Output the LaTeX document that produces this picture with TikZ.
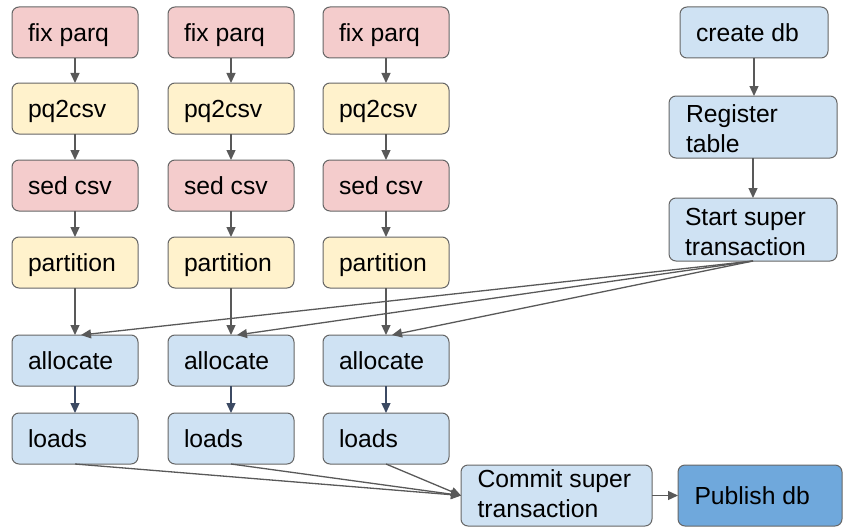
\documentclass[tikz,border=0pt]{standalone}
\usepackage{fontspec}
\setmainfont{Liberation Sans}
\usetikzlibrary{arrows.meta,calc}
\definecolor{pinkf}{HTML}{F4CCCC}
\definecolor{yellowf}{HTML}{FFF2CC}
\definecolor{lbluef}{HTML}{CFE2F3}
\definecolor{dbluef}{HTML}{6FA8DC}
\definecolor{bordc}{HTML}{666666}
\definecolor{arrc}{HTML}{595959}
\definecolor{slatec}{HTML}{3C4A63}
\begin{document}
\begin{tikzpicture}[x=1pt,y=-1pt,
  box/.style={draw=bordc, line width=1pt, rounded corners=7pt, inner sep=0pt, outer sep=0pt},
  colbox/.style={box, minimum width=126pt, minimum height=51pt},
  lbl/.style={anchor=base west, inner sep=0pt, outer sep=0pt, font=\fontsize{24.7}{30}\selectfont, text=black},
  arr/.style={draw=arrc, line width=1.3pt, -{Triangle[length=10pt,width=9pt]}},
  darr/.style={draw=slatec, line width=1.3pt, -{Triangle[length=10pt,width=9pt]}}]
\useasboundingbox (0,0) rectangle (843,527);

\foreach \i/\x in {1/75,2/231,3/386} {
  \node[colbox, fill=pinkf] (f\i) at (\x,32.5) {};
  \node[lbl] (ft\i) at ([xshift=16pt,yshift=-9pt]f\i.west) {fix parq};
  \node[colbox, fill=yellowf] (p\i) at (\x,108.5) {};
  \node[lbl] (pt\i) at ([xshift=16pt,yshift=-9pt]p\i.west) {pq2csv};
  \node[colbox, fill=pinkf] (s\i) at (\x,185.5) {};
  \node[lbl] (st\i) at ([xshift=16pt,yshift=-9pt]s\i.west) {sed csv};
  \node[colbox, fill=yellowf] (q\i) at (\x,262.5) {};
  \node[lbl] (qt\i) at ([xshift=16pt,yshift=-9pt]q\i.west) {partition};
  \node[colbox, fill=lbluef] (a\i) at (\x,360.5) {};
  \node[lbl] (at\i) at ([xshift=16pt,yshift=-9pt]a\i.west) {allocate};
  \node[colbox, fill=lbluef] (l\i) at (\x,438.5) {};
  \node[lbl] (lt\i) at ([xshift=16pt,yshift=-9pt]l\i.west) {loads};
  \draw[arr] (f\i.south) -- (p\i.north);
  \draw[arr] (p\i.south) -- (s\i.north);
  \draw[arr] (s\i.south) -- (q\i.north);
  \draw[arr] (q\i.south) -- (a\i.north);
  \draw[darr] (a\i.south) -- (l\i.north);
}

% right column
\node[box, fill=lbluef, minimum width=148pt, minimum height=51pt] (cd) at (754,32.5) {};
\node[lbl] (cdt) at ([xshift=16pt,yshift=-9pt]cd.west) {create db};
\node[box, fill=lbluef, minimum width=168pt, minimum height=62pt] (rt) at (753,127) {};
\node[lbl] (rtt1) at ([xshift=17pt,yshift=5pt]rt.west) {Register};
\node[lbl] (rtt2) at ([xshift=17pt,yshift=-25pt]rt.west) {table};
\node[box, fill=lbluef, minimum width=168pt, minimum height=63pt] (ss) at (753,229.5) {};
\node[lbl] (sst1) at ([xshift=16pt,yshift=4.5pt]ss.west) {Start super};
\node[lbl] (sst2) at ([xshift=16pt,yshift=-25.5pt]ss.west) {transaction};

\draw[arr] (cd.south) -- (cd.south |- rt.north);
\draw[arr] (rt.south) -- (rt.south |- ss.north);

% bottom
\node[box, fill=lbluef, minimum width=191pt, minimum height=61pt] (cm) at (556.5,495.5) {};
\node[lbl] (cmt1) at ([xshift=16.5pt,yshift=8pt]cm.west) {Commit super};
\node[lbl] (cmt2) at ([xshift=16.5pt,yshift=-22pt]cm.west) {transaction};
\node[box, fill=dbluef, minimum width=164pt, minimum height=61pt] (pb) at (760,495.5) {};
\node[lbl] (pbt) at ([xshift=16.5pt,yshift=-9pt]pb.west) {Publish db};

\foreach \i in {1,2,3} {
  \draw[arr] (ss.south) -- ([xshift=6pt]a\i.north);
  \draw[arr] (l\i.south) -- (cm.west);
}
\draw[arr] (cm.east) -- (pb.west);
\end{tikzpicture}
\end{document}
